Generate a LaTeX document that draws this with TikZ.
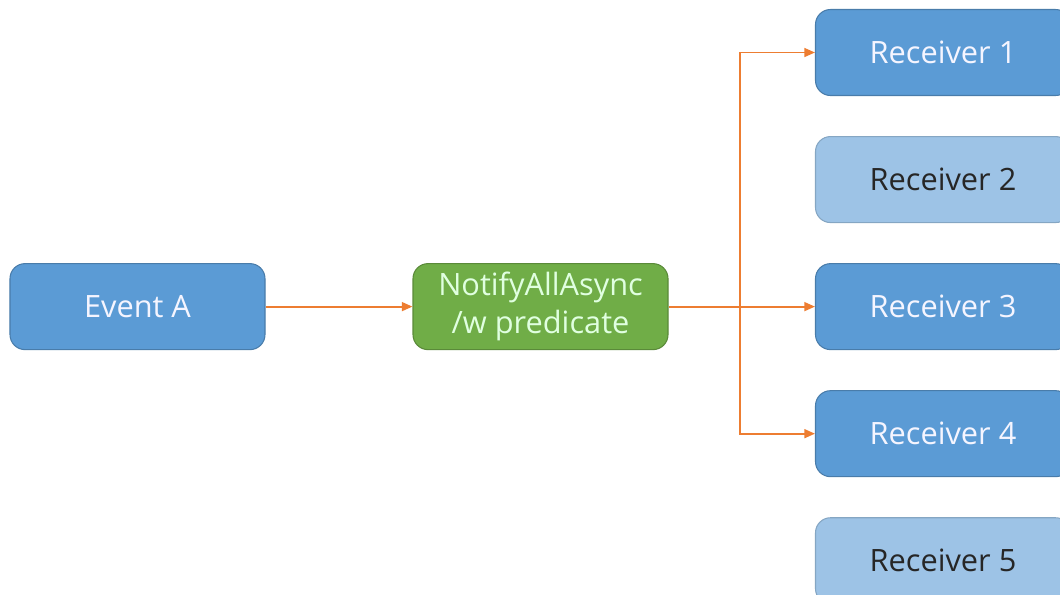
\documentclass[tikz,border=0pt]{standalone}
\usepackage{fontspec}
\setmainfont{Open Sans}
\usepackage{tikz}
\usetikzlibrary{positioning,arrows.meta}

\definecolor{boxblue}{HTML}{5B9BD5}
\definecolor{boxlight}{HTML}{9DC3E6}
\definecolor{boxgreen}{HTML}{70AD47}
\definecolor{flow}{HTML}{ED7D31}

\begin{document}
\begin{tikzpicture}[
  box/.style={rectangle,rounded corners=0.3cm,minimum width=5.1cm,minimum height=1.72cm,
    align=center,font=\fontsize{17.5}{21.5}\selectfont,draw=boxblue!80!black,line width=0.6pt},
  darkbox/.style={box,fill=boxblue,text=blue!4!white},
  lightbox/.style={box,fill=boxlight,draw=boxlight!85!black,text=black!85},
  greenbox/.style={box,fill=boxgreen,draw=boxgreen!80!black,text=green!12!white},
  link/.style={flow,line width=1.1pt,-{Triangle[length=6pt,width=5pt]}}
]
  \useasboundingbox (0,0) rectangle (21.2,-11.88);
  \node [darkbox] (rec1) at (18.86,-1.05) {Receiver 1};
  \node [lightbox,below=0.8cm of rec1] (rec2) {Receiver 2};
  \node [darkbox,below=0.8cm of rec2] (rec3) {Receiver 3};
  \node [darkbox,below=0.8cm of rec3] (rec4) {Receiver 4};
  \node [lightbox,below=0.8cm of rec4] (rec5) {Receiver 5};
  \node [darkbox] (event) at (2.75,0 |- rec3) {Event A};
  \node [greenbox] (notify) at (10.81,0 |- rec3) {NotifyAllAsync\\/w predicate};
  \coordinate (split) at (14.8,0 |- rec3);
  \draw [link] (event) -- (notify);
  \draw [link] (notify) -- (rec3);
  \draw [link] (split) |- (rec1);
  \draw [link] (split) |- (rec4);
\end{tikzpicture}
\end{document}
